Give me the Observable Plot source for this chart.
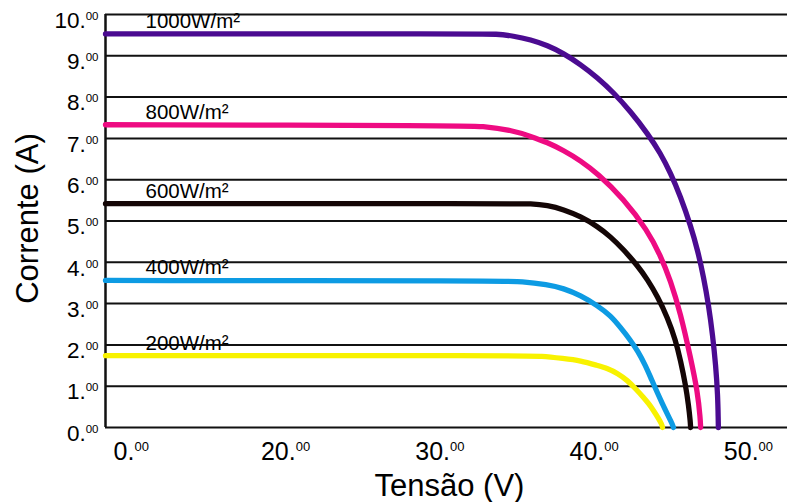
<!DOCTYPE html>
<html>
<head>
<meta charset="utf-8">
<script src="https://cdn.jsdelivr.net/npm/d3@7"></script>
<script src="https://cdn.jsdelivr.net/npm/@observablehq/plot@0.6"></script>
<style>
  html, body { margin: 0; padding: 0; background: #fff; }
  svg { display: block; }
</style>
</head>
<body>
<div id="chart"></div>
<script>
// ---- data ----
const seriesLabels = ["1000W/m²", "800W/m²", "600W/m²", "400W/m²", "200W/m²"];
const seriesColors = ["#4b0b91", "#ee0b82", "#140606", "#0d9be3", "#f8f200"];

const v1000 = [8.33, 32.6, 33.61, 34.78, 35.88, 36.98, 38.01, 39.12, 40.22, 41.26, 42.36, 43.46, 44.30, 44.95, 45.60, 46.25, 46.71, 47.10, 47.42, 47.68, 47.88, 48.01, 48.04, 48.05];
const i1000 = [9.53, 9.53, 9.53, 9.48, 9.39, 9.25, 9.06, 8.79, 8.47, 8.11, 7.65, 7.12, 6.64, 6.16, 5.59, 4.89, 4.29, 3.63, 2.95, 2.23, 1.50, 0.77, 0.2, 0];

const v800 = [8.33, 31.5, 32.64, 34.78, 35.88, 36.98, 38.01, 39.12, 40.22, 41.90, 43.46, 44.30, 44.95, 45.60, 46.25, 46.71, 46.88, 46.90];
const i800 = [7.33, 7.31, 7.30, 7.19, 7.05, 6.90, 6.71, 6.46, 6.15, 5.54, 4.77, 4.16, 3.56, 2.76, 1.69, 0.85, 0.2, 0];

const v600 = [8.33, 34.8, 35.88, 36.98, 38.01, 39.12, 40.22, 41.06, 41.90, 42.81, 43.46, 44.11, 44.76, 45.28, 45.60, 45.93, 46.12, 46.23, 46.25];
const i600 = [5.42, 5.42, 5.42, 5.38, 5.28, 5.11, 4.87, 4.62, 4.31, 3.92, 3.58, 3.17, 2.66, 2.11, 1.62, 1.02, 0.53, 0.15, 0];

const v400 = [8.33, 34.2, 35.23, 36.98, 38.01, 39.12, 40.22, 41.06, 41.71, 42.36, 42.81, 43.33, 43.66, 44.43, 45.05, 45.14];
const i400 = [3.56, 3.55, 3.54, 3.46, 3.37, 3.20, 2.95, 2.71, 2.42, 2.11, 1.86, 1.50, 1.21, 0.56, 0.1, 0];

const v200 = [8.33, 35.5, 36.53, 38.01, 39.12, 40.22, 40.87, 41.52, 42.16, 42.68, 43.20, 43.53, 43.85, 44.17, 44.38, 44.43];
const i200 = [1.74, 1.74, 1.73, 1.67, 1.62, 1.50, 1.43, 1.31, 1.14, 0.94, 0.73, 0.58, 0.41, 0.22, 0.08, 0];

const xDomain = [8.33, 52.53];
const xTicks = [10, 20, 30, 40, 50];
const xTickLabels = ["0", "20", "30", "40", "50"];
const yTicks = [0, 1, 2, 3, 4, 5, 6, 7, 8, 9, 10];
const tickDecimals = "00";
const xTitle = "Tensão (V)";
const yTitle = "Corrente (A)";

// ---- build tables ----
const seriesV = [v1000, v800, v600, v400, v200];
const seriesI = [i1000, i800, i600, i400, i200];
const table = [];
seriesLabels.forEach((s, k) => {
  seriesV[k].forEach((v, j) => table.push({series: s, v, i: seriesI[k][j]}));
});
const labelRows = seriesLabels.map((s, k) => ({label: s, isc: seriesI[k][0]}));
const xLabelMap = new Map(xTicks.map((t, k) => [t, xTickLabels[k]]));

const chart = Plot.plot({
  width: 787,
  height: 502,
  marginLeft: 105,
  marginRight: 0,
  marginTop: 14,
  marginBottom: 75,
  style: {fontFamily: "'Liberation Sans', Arial, Helvetica, sans-serif", background: "#fff", color: "#000"},
  x: {domain: xDomain},
  y: {domain: [0, 10]},
  color: {domain: seriesLabels, range: seriesColors},
  marks: [
    Plot.ruleY(yTicks, {stroke: "#111", strokeWidth: 2}),
    Plot.ruleX([xDomain[0]], {stroke: "#111", strokeWidth: 2.5}),
    Plot.axisY({ticks: yTicks, tickSize: 0, tickPadding: 7, fontSize: 22.5, dy: 6,
      tickFormat: d => `${d}.`, label: null}),
    Plot.axisX({ticks: xTicks, tickSize: 0, tickPadding: 15, fontSize: 25,
      tickFormat: d => `${xLabelMap.get(d)}.`, label: null}),
    Plot.line(table, {x: "v", y: "i", z: "series", stroke: "series",
      strokeWidth: 5.3, curve: "basis"}),
    Plot.text(labelRows, {frameAnchor: "left", y: "isc", text: "label", dx: 40, dy: -6,
      textAnchor: "start", lineAnchor: "bottom", fontSize: 20.5, fill: "#000"}),
    Plot.text([yTitle], {text: d => d, frameAnchor: "left", rotate: -90, dx: -68, dy: -2.5,
      lineAnchor: "bottom", textAnchor: "middle", fontSize: 31, fill: "#000"}),
    Plot.text([xTitle], {text: d => d, frameAnchor: "bottom", dx: 3, dy: 68,
      lineAnchor: "bottom", textAnchor: "middle", fontSize: 31, fill: "#000"})
  ]
});

// superscript decimals on the tick labels
d3.select(chart).selectAll('g[aria-label="y-axis tick label"] text')
  .append("tspan").attr("font-size", 11.5).attr("dy", -8).text(tickDecimals);
d3.select(chart).selectAll('g[aria-label="x-axis tick label"] text')
  .append("tspan").attr("font-size", 13).attr("dy", -9).text(tickDecimals);

document.getElementById("chart").appendChild(chart);
</script>
</body>
</html>
